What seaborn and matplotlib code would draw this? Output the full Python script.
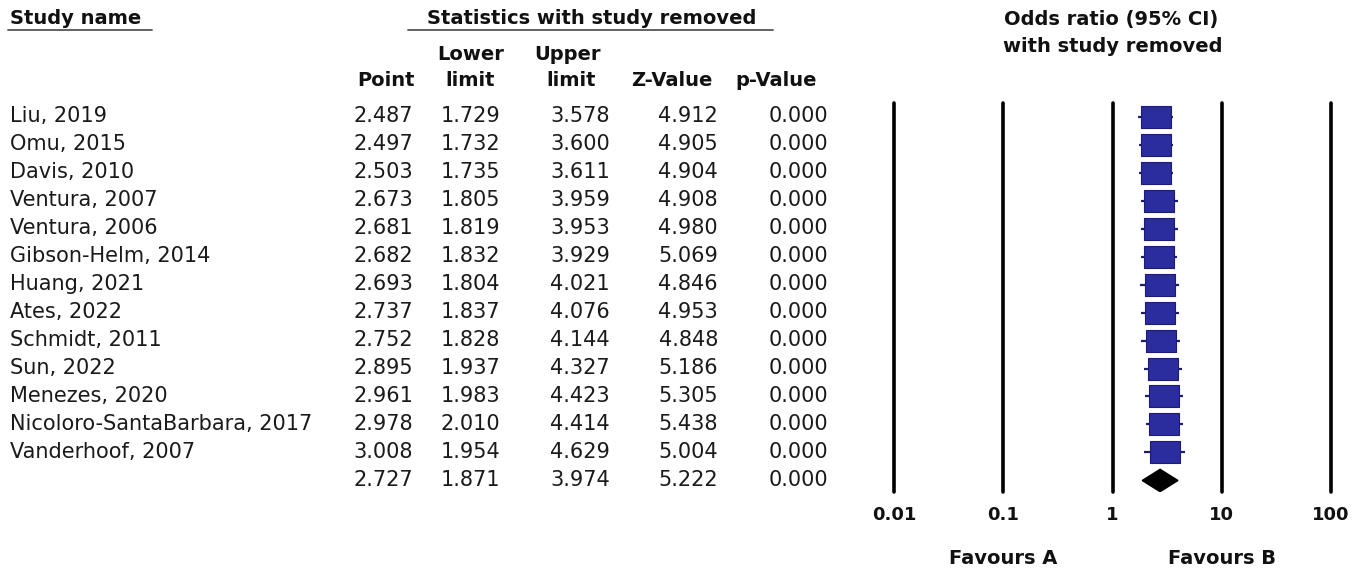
import matplotlib
matplotlib.use("Agg")
import matplotlib.pyplot as plt
import matplotlib.transforms as mtransforms
from matplotlib.path import Path
from matplotlib.lines import Line2D
import numpy as np
import pandas as pd
import seaborn as sns

# ---------------- data ----------------
study_names = ["Liu, 2019", "Omu, 2015", "Davis, 2010", "Ventura, 2007", "Ventura, 2006",
               "Gibson-Helm, 2014", "Huang, 2021", "Ates, 2022", "Schmidt, 2011", "Sun, 2022",
               "Menezes, 2020", "Nicoloro-SantaBarbara, 2017", "Vanderhoof, 2007"]
point = [2.487, 2.497, 2.503, 2.673, 2.681, 2.682, 2.693, 2.737, 2.752, 2.895, 2.961, 2.978, 3.008]
lower = [1.729, 1.732, 1.735, 1.805, 1.819, 1.832, 1.804, 1.837, 1.828, 1.937, 1.983, 2.010, 1.954]
upper = [3.578, 3.600, 3.611, 3.959, 3.953, 3.929, 4.021, 4.076, 4.144, 4.327, 4.423, 4.414, 4.629]
z_value = [4.912, 4.905, 4.904, 4.908, 4.980, 5.069, 4.846, 4.953, 4.848, 5.186, 5.305, 5.438, 5.004]
p_value = [0.000] * 13

summary_point = 2.727
summary_lower = 1.871
summary_upper = 3.974
summary_z = 5.222
summary_p = 0.000

axis_ticks = [0.01, 0.1, 1, 10, 100]
axis_tick_labels = ["0.01", "0.1", "1", "10", "100"]
favours_labels = ["Favours A", "Favours B"]

# ---------------- figure ----------------
sns.set_theme(style="white")
plt.rcParams["font.family"] = ["DejaVu Sans"]

W, H = 1363, 572
fig = plt.figure(figsize=(W / 100, H / 100), dpi=100)
fig.patch.set_facecolor("white")

def fx(px):
    return px / W

def fy(py):
    return 1 - py / H

row_top = 116.5
row_step = 28.0
ax_top, ax_bot = 103, 492
ax_left, ax_right = 894, 1331
ax = fig.add_axes([fx(ax_left), fy(ax_bot), (ax_right - ax_left) / W, (ax_bot - ax_top) / H])
ax.set_xscale("log")
ax.set_xlim(0.01, 100)
ax.set_ylim((ax_bot - row_top) / row_step, (ax_top - row_top) / row_step)
ax.set_facecolor("white")
for s in ax.spines.values():
    s.set_visible(False)

n = len(study_names)
df = pd.DataFrame({"name": study_names, "point": point, "lower": lower,
                   "upper": upper, "row": np.arange(n)})

# reference lines
for t in axis_ticks:
    ax.axvline(t, color="black", lw=2.6, clip_on=False, zorder=1)

# whiskers
ax.hlines(df["row"], df["lower"], df["upper"], color="#1c1c70", lw=1.6, zorder=2)

# squares
rect = Path([(-15, -11), (15, -11), (15, 11), (-15, 11), (-15, -11)],
            [Path.MOVETO, Path.LINETO, Path.LINETO, Path.LINETO, Path.CLOSEPOLY])
sns.scatterplot(data=df, x="point", y="row", marker=rect, s=(30 * 0.72) ** 2,
                color="#2b2c9e", edgecolor="#1c1c78", linewidth=0.8, ax=ax, zorder=3,
                legend=False)

# diamond for summary
sy = n
dh = 0.4
ax.fill([summary_lower, summary_point, summary_upper, summary_point],
        [sy, sy - dh, sy, sy + dh], color="black", zorder=3)

ax.set_xticks(axis_ticks)
ax.set_xticklabels(axis_tick_labels, fontsize=13, fontweight="bold", color="#111111")
ax.tick_params(axis="x", length=0, pad=10)
ax.minorticks_off()
ax.set_yticks([])
ax.set_xlabel("")
ax.set_ylabel("")

# favours labels
trans_fav = mtransforms.blended_transform_factory(ax.transData, fig.transFigure)
ax.text(0.1, fy(558), favours_labels[0], transform=trans_fav, ha="center", va="center",
        fontsize=14, fontweight="bold", color="#111111")
ax.text(10, fy(558), favours_labels[1], transform=trans_fav, ha="center", va="center",
        fontsize=14, fontweight="bold", color="#111111")

# ---------------- table ----------------
trans_row = mtransforms.blended_transform_factory(fig.transFigure, ax.transData)
txt_kw = dict(fontsize=15, color="#1a1a1a", va="center", transform=trans_row)

col_right = [413, 500, 610, 718, 828]
for i in range(n):
    ax.text(fx(10), i, study_names[i], ha="left", **txt_kw)
    vals = [point[i], lower[i], upper[i], z_value[i], p_value[i]]
    for xr, v in zip(col_right, vals):
        ax.text(fx(xr), i, f"{v:.3f}", ha="right", **txt_kw)
svals = [summary_point, summary_lower, summary_upper, summary_z, summary_p]
for xr, v in zip(col_right, svals):
    ax.text(fx(xr), n, f"{v:.3f}", ha="right", **txt_kw)

# headers
hkw = dict(fontsize=14, fontweight="bold", color="#111111", va="center")
fig.text(fx(10), fy(18), "Study name", ha="left", **hkw)
fig.text(fx(592), fy(18), "Statistics with study removed", ha="center", **hkw)
fig.add_artist(Line2D([fx(8), fx(152)], [fy(30), fy(30)], color="#555555", lw=1.3))
fig.add_artist(Line2D([fx(408), fx(773)], [fy(30), fy(30)], color="#555555", lw=1.3))

ckw = dict(fontsize=14, fontweight="bold", color="#111111", va="center", ha="center")
fig.text(fx(386), fy(80), "Point", **ckw)
fig.text(fx(471), fy(55), "Lower", **ckw)
fig.text(fx(470), fy(80), "limit", **ckw)
fig.text(fx(568), fy(55), "Upper", **ckw)
fig.text(fx(571), fy(80), "limit", **ckw)
fig.text(fx(672), fy(80), "Z-Value", **ckw)
fig.text(fx(776), fy(80), "p-Value", **ckw)

okw = dict(fontsize=14, fontweight="bold", color="#111111", va="center", ha="center")
fig.text(fx(1111), fy(19), "Odds ratio (95% CI)", **okw)
fig.text(fx(1113), fy(46), "with study removed", **okw)

fig.savefig("out.png", dpi=100, facecolor="white")
